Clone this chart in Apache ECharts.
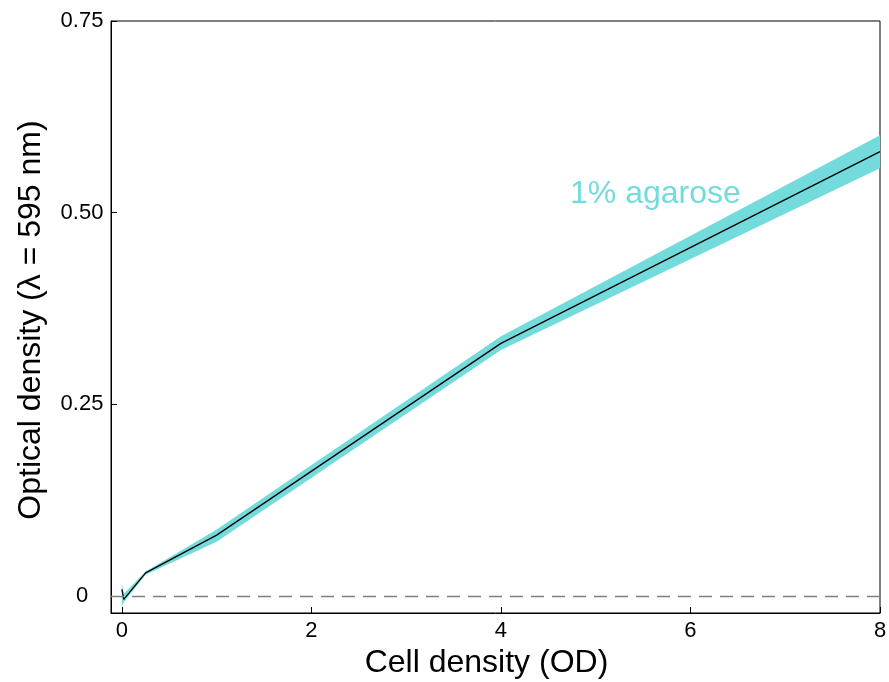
<!DOCTYPE html>
<html>
<head>
<meta charset="utf-8">
<script src="https://cdn.jsdelivr.net/npm/echarts@6/dist/echarts.min.js"></script>
<style>html,body{margin:0;padding:0;background:#fff}#c{width:889px;height:682px}</style>
</head>
<body>
<div id="c"></div>
<script>
// Data
var cellDensity = [0, 0.02, 0.25, 1, 4, 8];
var meanOD      = [0.0087, -0.0043, 0.0304, 0.0796, 0.3296, 0.5796];
var lowerOD     = [-0.012, -0.008, 0.028, 0.071, 0.321, 0.558];
var upperOD     = [0.016, 0.003, 0.032, 0.087, 0.339, 0.601];
var xTicks = [0, 2, 4, 6, 8];
var yTicks = [0, 0.25, 0.5, 0.75];
var seriesLabel = '1% agarose';
var labelPos = [5.63, 0.524];

var cyan = '#74DBDC';
var font = '"Liberation Sans", Arial, Helvetica, sans-serif';

var meanData = cellDensity.map(function (x, i) { return [x, meanOD[i]]; });
var bandData = cellDensity.map(function (x, i) { return [x, lowerOD[i], upperOD[i]]; });

var chart = echarts.init(document.getElementById('c'), null, {renderer: 'canvas'});
chart.setOption({
  animation: false,
  grid: {left: 111, right: 9, top: 21, bottom: 69, outerBoundsMode: 'none', containLabel: false,
    show: true, borderColor: '#000', borderWidth: 1, backgroundColor: 'transparent'},
  xAxis: {
    type: 'value', min: -0.115, max: 8,
    name: 'Cell density (OD)', nameLocation: 'middle', nameGap: 31,
    nameTextStyle: {fontFamily: font, fontSize: 32, color: '#000', padding: [0, 18, 0, 0]},
    axisLine: {show: true, onZero: false, lineStyle: {color: '#000', width: 1}},
    axisTick: {show: true, inside: true, length: 6, customValues: xTicks, lineStyle: {color: '#000'}},
    axisLabel: {show: true, customValues: xTicks, fontFamily: font, fontSize: 22, color: '#000', margin: 7},
    splitLine: {show: false}
  },
  yAxis: {
    type: 'value', min: -0.022, max: 0.75,
    name: 'Optical density (λ = 595 nm)', nameLocation: 'middle', nameGap: 64,
    nameTextStyle: {fontFamily: font, fontSize: 32, color: '#000', padding: [0, 6, 0, 0]},
    axisLine: {show: true, onZero: false, lineStyle: {color: '#000', width: 1}},
    axisTick: {show: true, inside: true, length: 6, customValues: yTicks, lineStyle: {color: '#000'}},
    axisLabel: {show: true, customValues: yTicks, fontFamily: font, fontSize: 22, color: '#000',
      align: 'center', margin: 29,
      formatter: function (v) { return v === 0 ? '0' : v.toFixed(2); }},
    splitLine: {show: false}
  },
  series: [
    {
      type: 'custom', data: bandData, silent: true, z: 1,
      encode: {x: 0, y: [1, 2]},
      renderItem: function (params, api) {
        if (params.dataIndex !== 0) { return null; }
        var pts = [];
        var i;
        for (i = 0; i < bandData.length; i++) { pts.push(api.coord([bandData[i][0], bandData[i][2]])); }
        for (i = bandData.length - 1; i >= 0; i--) { pts.push(api.coord([bandData[i][0], bandData[i][1]])); }
        return {type: 'polygon', shape: {points: pts}, style: {fill: cyan, stroke: null}};
      }
    },
    {
      type: 'line', data: meanData, symbol: 'none',
      lineStyle: {color: '#000', width: 1.3}, z: 3,
      markLine: {
        silent: true, symbol: 'none',
        lineStyle: {color: '#808080', type: [13, 8], width: 1.3},
        label: {show: false},
        data: [{yAxis: 0}]
      },
      markPoint: {
        silent: true, symbol: 'rect', symbolSize: 1,
        itemStyle: {color: 'rgba(0,0,0,0)'},
        label: {show: true, formatter: seriesLabel, fontFamily: font, fontSize: 32, color: cyan, position: 'inside'},
        data: [{coord: labelPos}]
      }
    }
  ]
});
</script>
</body>
</html>
